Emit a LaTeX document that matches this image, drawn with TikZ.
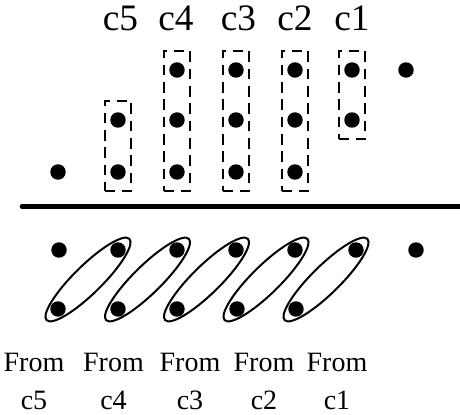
\documentclass[tikz,border=0pt]{standalone}
\usepackage{fontspec}
\setmainfont{Liberation Serif}
\usetikzlibrary{fit,calc,shapes.geometric}

\begin{document}
\begin{tikzpicture}[x=0.75pt, y=-0.75pt,
    dot/.style={circle, fill=black, inner sep=0pt, minimum size=11.6pt},
    colbox/.style={draw, line width=1.4pt, dash pattern=on 8pt off 5pt, inner xsep=4pt, inner ysep=8.5pt},
    pairring/.style={draw, ellipse, line width=1.5pt, inner sep=0pt, minimum width=87pt, minimum height=21pt, rotate=44.5},
    collabel/.style={font=\fontsize{28}{34}\selectfont, anchor=base, inner sep=0pt},
    fromlabel/.style={font=\fontsize{21}{28}\selectfont, align=center, anchor=base, inner sep=0pt}]
    \useasboundingbox (0,0) rectangle (460,414);
    % Columns above the line
    \node[dot] (left) at (58,172) {};
    \node[dot] (c5m) at (118,120) {};
    \node[dot] (c5b) at (118,172) {};
    \node[dot] (c4t) at (177,70) {};
    \node[dot] (c4m) at (177,120) {};
    \node[dot] (c4b) at (177,172) {};
    \node[dot] (c3t) at (236,70) {};
    \node[dot] (c3m) at (236,120) {};
    \node[dot] (c3b) at (236,172) {};
    \node[dot] (c2t) at (295,70) {};
    \node[dot] (c2m) at (295,120) {};
    \node[dot] (c2b) at (295,172) {};
    \node[dot] (c1t) at (352,70) {};
    \node[dot] (c1m) at (352,120) {};
    \node[dot] (right) at (406,70) {};
    % Dashed column boxes
    \node[colbox, fit=(c5m)(c5b)] (box5) {};
    \node[colbox, fit=(c4t)(c4b)] (box4) {};
    \node[colbox, fit=(c3t)(c3b)] (box3) {};
    \node[colbox, fit=(c2t)(c2b)] (box2) {};
    \node[colbox, fit=(c1t)(c1m)] (box1) {};
    % Column labels
    \node[collabel] (lab5) at (120.5,30) {c5};
    \node[collabel] (lab4) at (176,30) {c4};
    \node[collabel] (lab3) at (238.5,30) {c3};
    \node[collabel] (lab2) at (295,30) {c2};
    \node[collabel] (lab1) at (352,30) {c1};
    % Line
    \coordinate (rulel) at (22,206.5);
    \coordinate (ruler) at (464,206.5);
    \draw[line width=3.4pt, line cap=round] (rulel) -- (ruler);
    % Dots below the line
    \node[dot] (u0) at (59,250) {};
    \node[dot] (u1) at (118,250) {};
    \node[dot] (u2) at (177,250) {};
    \node[dot] (u3) at (236,250) {};
    \node[dot] (u4) at (295,250) {};
    \node[dot] (u5) at (356,250) {};
    \node[dot] (u6) at (416,250) {};
    \node[dot] (l1) at (58,309) {};
    \node[dot] (l2) at (118,309) {};
    \node[dot] (l3) at (177,309) {};
    \node[dot] (l4) at (237,309) {};
    \node[dot] (l5) at (296,309) {};
    % Pair rings
    \node[pairring] (ring5) at ($(l1)!.5!(u1)$) {};
    \node[pairring] (ring4) at ($(l2)!.5!(u2)$) {};
    \node[pairring] (ring3) at ($(l3)!.5!(u3)$) {};
    \node[pairring] (ring2) at ($(l4)!.5!(u4)$) {};
    \node[pairring] (ring1) at ($(l5)!.5!(u5)$) {};
    % Labels (base is the last line)
    \node[fromlabel] (from5) at (34,409) {From\\c5};
    \node[fromlabel] (from4) at (113.5,409) {From\\c4};
    \node[fromlabel] (from3) at (190,409) {From\\c3};
    \node[fromlabel] (from2) at (264,409) {From\\c2};
    \node[fromlabel] (from1) at (337,409) {From\\c1};
\end{tikzpicture}
\end{document}
